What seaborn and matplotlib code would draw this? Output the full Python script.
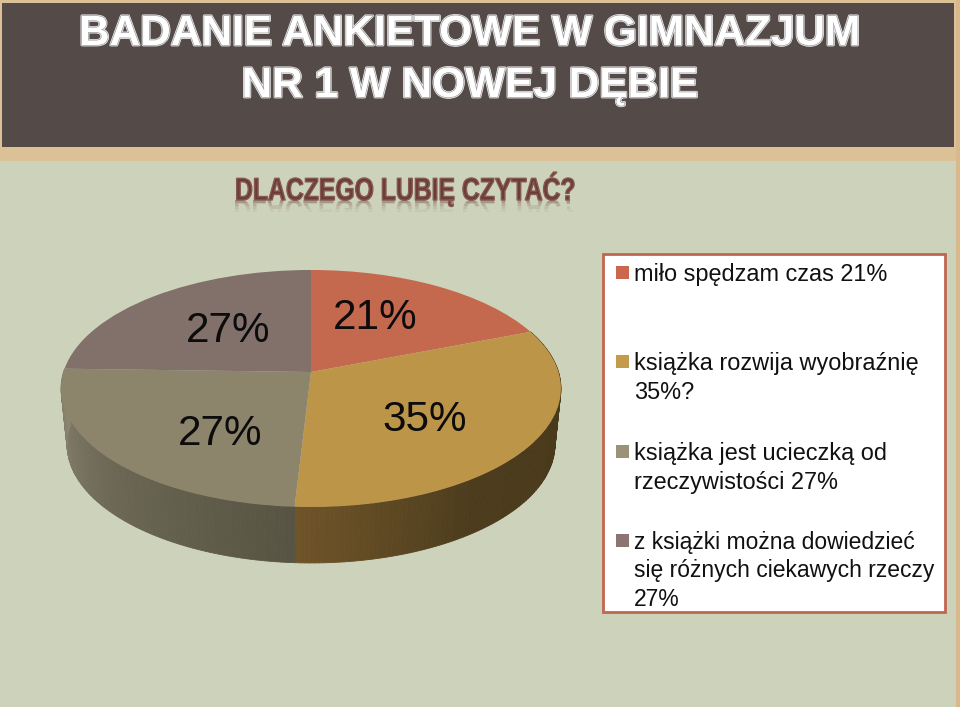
import numpy as np
import matplotlib
matplotlib.use("Agg")
import matplotlib.pyplot as plt
import matplotlib.patheffects as pe
from matplotlib.patches import Rectangle, PathPatch
from matplotlib.path import Path
from matplotlib.textpath import TextPath
from matplotlib.font_manager import FontProperties
import matplotlib.transforms as mtransforms
import seaborn as sns

# dane
values = [21, 35, 27, 27]
pie_labels = ["21%", "35%", "27%", "27%"]
legend_labels = [
    "miło spędzam czas 21%",
    "książka rozwija wyobraźnię\n35%?",
    "książka jest ucieczką od\nrzeczywistości 27%",
    "z książki można dowiedzieć\nsię różnych ciekawych rzeczy\n27%",
]
title_lines = ["BADANIE ANKIETOWE W GIMNAZJUM", "NR 1 W NOWEJ DĘBIE"]
subtitle = "DLACZEGO LUBIĘ CZYTAĆ?"

top_colors = ["#c4694e", "#bd9549", "#8c856c", "#82706a"]
legend_colors = ["#c9684f", "#c49a4c", "#9b9279", "#8c7473"]

sns.set_theme(style="white")
plt.rcParams["font.family"] = ["Liberation Sans", "DejaVu Sans"]

# rzut perspektywiczny kola
X0, Y0 = 311.0, 372.0
K = 0.139
A = 116.2
B = 247.5
DEPTH = 56.0
SHRINK = 0.976


class PieProjection(mtransforms.Transform):
    input_dims = 2
    output_dims = 2

    def transform_non_affine(self, pts):
        pts = np.asarray(pts)
        d = 1 + K * pts[:, 1]
        return np.column_stack([X0 + B * pts[:, 0] / d, Y0 - A * pts[:, 1] / d])


class SqueezedText(pe.AbstractPathEffect):
    # waski napis, brak fontu condensed
    def __init__(self, sx, edge, lw):
        super().__init__()
        self.sx, self.edge, self.lw = sx, edge, lw

    def draw_path(self, renderer, gc, tpath, affine, rgbFace=None):
        t = mtransforms.Affine2D().scale(self.sx, 1) + affine
        gc0 = renderer.new_gc()
        gc0.copy_properties(gc)
        gc0.set_linewidth(self.lw)
        gc0.set_foreground(self.edge)
        renderer.draw_path(gc0, tpath, t, rgbFace)
        gc0.restore()


def rim(deg, depth=0.0, shrink=1.0):
    t = np.radians(deg)
    u, v = np.sin(t), np.cos(t)
    d = 1 + K * v
    return X0 + shrink * B * u / d, Y0 + depth - A * v / d


fig = plt.figure(figsize=(9.6, 7.07), dpi=100)
fig.patch.set_facecolor("#cdd3bb")
ax = fig.add_axes([0, 0, 1, 1])

# pie daje kolory i katy, potem rzut
wedges, _ = ax.pie(values, colors=sns.color_palette(top_colors), startangle=90,
                   counterclock=False, wedgeprops={"linewidth": 0})
ax.set_aspect("auto")
ax.set_xlim(0, 960)
ax.set_ylim(707, 0)
ax.axis("off")
for w in wedges:
    w.set_transform(PieProjection() + ax.transData)
    w.set_zorder(5)

# tlo
ax.add_patch(Rectangle((0, 0), 960, 161, color="#dcc096", lw=0, zorder=0))
ax.add_patch(Rectangle((956, 0), 4, 707, color="#d9b98c", lw=0, zorder=0))
ax.add_patch(Rectangle((2, 3), 952, 144, color="#544a48", lw=0, zorder=1))

# sciana boczna
cum = np.cumsum(values) / np.sum(values) * 360
walls = [
    (cum[0], cum[1], ["#4a3a1c", "#4a3a1c", "#4c3c1d", "#6f5429"]),
    (cum[1], cum[2], ["#575443", "#6c6855", "#8b8671"]),
]
for start, end, ramp in walls:
    steps = int(end - start)
    edges = np.linspace(start, end, steps + 1)
    pal = sns.blend_palette(ramp, steps)
    for i in range(steps):
        a = np.linspace(edges[i], edges[i + 1], 4)
        x1, y1 = rim(a)
        x2, y2 = rim(a, DEPTH, SHRINK)
        ax.fill(np.r_[x1, x2[::-1]], np.r_[y1, y2[::-1]], color=pal[i], lw=0.6, zorder=3)

# etykiety na kole
label_pos = [(375, 318), (425, 420), (220, 434), (228, 331)]
for (x, y), s in zip(label_pos, pie_labels):
    ax.text(x, y, s, fontsize=30.4, color="#0c0c0c", ha="center", va="center", zorder=6)

# legenda
ax.add_patch(Rectangle((603, 254), 342, 358, facecolor="white", edgecolor="#c0664f", lw=2, zorder=2))
legend_y = [263, 352, 442, 531]
legend_space = [1.33, 1.33, 1.33, 1.3]
legend_size = [16.9, 16.9, 16.9, 16.5]
for y, s, c, ls, fs in zip(legend_y, legend_labels, legend_colors, legend_space, legend_size):
    ax.add_patch(Rectangle((616, y + 2.5), 13, 13, color=c, lw=0, zorder=3))
    ax.text(634, y, s, fontsize=fs, color="#111111", va="top", ha="left", linespacing=ls, zorder=3)

# tytul
title_fx = [pe.Stroke(linewidth=2.0, foreground="#f0f0f0"),
            pe.Stroke(linewidth=1.0, foreground="#9c9c9c"),
            pe.Normal()]
for y, s in zip([34, 86], title_lines):
    ax.text(470, y, s, fontsize=30.5, fontweight="bold", color="white", ha="center", va="center",
            path_effects=title_fx, zorder=3)

# podtytul z odbiciem
fp = FontProperties(family="Liberation Sans", weight="bold", size=22.7)
ax.text(235, 200, subtitle, fontproperties=fp, color="#6b3d36", ha="left", va="baseline", zorder=3,
        path_effects=[SqueezedText(0.785, "#85594f", 1.0)])
tp = TextPath((0, 0), subtitle, size=31.5, prop=fp)
ext = tp.get_extents()
tp = Path((tp.vertices - [ext.x0, 0]) * [340 / ext.width, 1] + [235, 200], tp.codes)
for low, high, alpha in [(200, 203, 0.4), (203, 206, 0.25), (206, 209, 0.14), (209, 212, 0.06)]:
    ref = PathPatch(tp, facecolor="#6b3d36", edgecolor="none", alpha=alpha, zorder=2)
    ax.add_patch(ref)
    ref.set_clip_path(Rectangle((0, low), 960, high - low, transform=ax.transData))

fig.savefig("out.png", dpi=100)
